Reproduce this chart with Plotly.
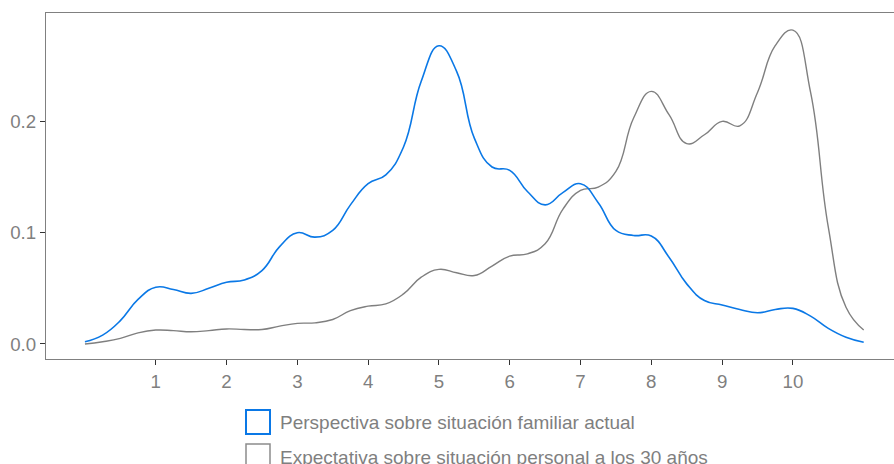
import plotly.graph_objects as go

x_vals = [0.00, 0.25, 0.50, 0.75, 1.00, 1.25, 1.50, 1.75, 2.00, 2.25, 2.50, 2.75,
          3.00, 3.25, 3.50, 3.75, 4.00, 4.25, 4.50, 4.75, 5.00, 5.25, 5.50, 5.75,
          6.00, 6.25, 6.50, 6.75, 7.00, 7.25, 7.50, 7.75, 8.00, 8.25, 8.50, 8.75,
          9.00, 9.25, 9.50, 9.75, 10.00, 10.25, 10.50, 10.75, 11.00]

familiar_actual = [0.002, 0.008, 0.021, 0.040, 0.051, 0.049, 0.0455, 0.050, 0.0555, 0.0575, 0.066, 0.0875,
                   0.100, 0.096, 0.102, 0.125, 0.144, 0.152, 0.177, 0.236, 0.268, 0.245, 0.185, 0.159,
                   0.156, 0.137, 0.125, 0.136, 0.144, 0.127, 0.102, 0.0975, 0.097, 0.078, 0.054, 0.039,
                   0.035, 0.031, 0.028, 0.031, 0.032, 0.025, 0.014, 0.006, 0.0015]

personal_30 = [0.000, 0.002, 0.005, 0.010, 0.0125, 0.012, 0.011, 0.012, 0.0135, 0.013, 0.013, 0.016,
               0.0185, 0.019, 0.022, 0.030, 0.034, 0.036, 0.045, 0.060, 0.067, 0.064, 0.0615, 0.070,
               0.079, 0.081, 0.090, 0.121, 0.138, 0.141, 0.155, 0.203, 0.227, 0.206, 0.180, 0.188,
               0.200, 0.196, 0.226, 0.268, 0.282, 0.226, 0.105, 0.033, 0.0126]

series_names = ["Perspectiva sobre situación familiar actual",
                "Expectativa sobre situación personal a los 30 años"]
x_ticks = [1, 2, 3, 4, 5, 6, 7, 8, 9, 10]
y_ticks = [0.0, 0.1, 0.2]
y_tick_labels = ["0.0", "0.1", "0.2"]

BLUE = "#0a78e6"
GRAY = "#7f7f7f"
FONT = "Liberation Sans, Arial, sans-serif"

W, H = 894, 464
L, T, B = 46, 13, 105
PW, PH = W - L, H - T - B  # 848 x 346


def px_to_paper_x(px):
    return (px - L) / PW


def px_to_paper_y(py):
    return (H - B - py) / PH


fig = go.Figure()
fig.add_trace(go.Scatter(x=x_vals, y=personal_30, mode="lines", name=series_names[1],
                         line=dict(color=GRAY, width=1.4, shape="spline", smoothing=1.3),
                         showlegend=False))
fig.add_trace(go.Scatter(x=x_vals, y=familiar_actual, mode="lines", name=series_names[0],
                         line=dict(color=BLUE, width=1.6, shape="spline", smoothing=1.3),
                         showlegend=False))

# manual legend (square keys like the reference)
legend_rows = [(series_names[0], BLUE, 2.0, 410, 422), (series_names[1], "#8c8c8c", 1.5, 444, 457)]
for name, col, lw, top, mid in legend_rows:
    fig.add_shape(type="rect", xref="paper", yref="paper",
                  x0=px_to_paper_x(246), x1=px_to_paper_x(270),
                  y0=px_to_paper_y(top + 24), y1=px_to_paper_y(top),
                  line=dict(color=col, width=lw), fillcolor="white")
    fig.add_annotation(xref="paper", yref="paper", x=px_to_paper_x(278), y=px_to_paper_y(mid),
                       text=name, showarrow=False, xanchor="left", yanchor="middle",
                       font=dict(family=FONT, size=19, color=GRAY))

fig.update_layout(
    width=W, height=H,
    margin=dict(l=L, r=0, t=T, b=B, autoexpand=False),
    plot_bgcolor="white", paper_bgcolor="white",
    font=dict(family=FONT, size=18.7, color=GRAY),
    hovermode=False,
)
fig.update_xaxes(range=[-0.55, 11.428], tickvals=x_ticks, ticktext=[str(t) for t in x_ticks],
                 automargin=False,
                 showgrid=False, zeroline=False, showline=True, linecolor="#808080", linewidth=1.3,
                 mirror=True, ticks="outside", ticklen=5, tickcolor="#333333", tickwidth=1,
                 tickfont=dict(family=FONT, size=18.7, color=GRAY))
fig.update_yaxes(range=[-0.0135, 0.2974], tickvals=y_ticks, ticktext=y_tick_labels,
                 automargin=False,
                 showgrid=False, zeroline=False, showline=True, linecolor="#808080", linewidth=1.3,
                 ticks="outside", ticklen=5, tickcolor="#333333", tickwidth=1,
                 tickfont=dict(family=FONT, size=18.7, color=GRAY))

# remove the browser's default 8px body margin so the figure fills the window exactly
fig.write_html("out.html", config={"displayModeBar": False},
               post_script="document.body.style.margin='0';document.body.style.overflow='hidden';")
